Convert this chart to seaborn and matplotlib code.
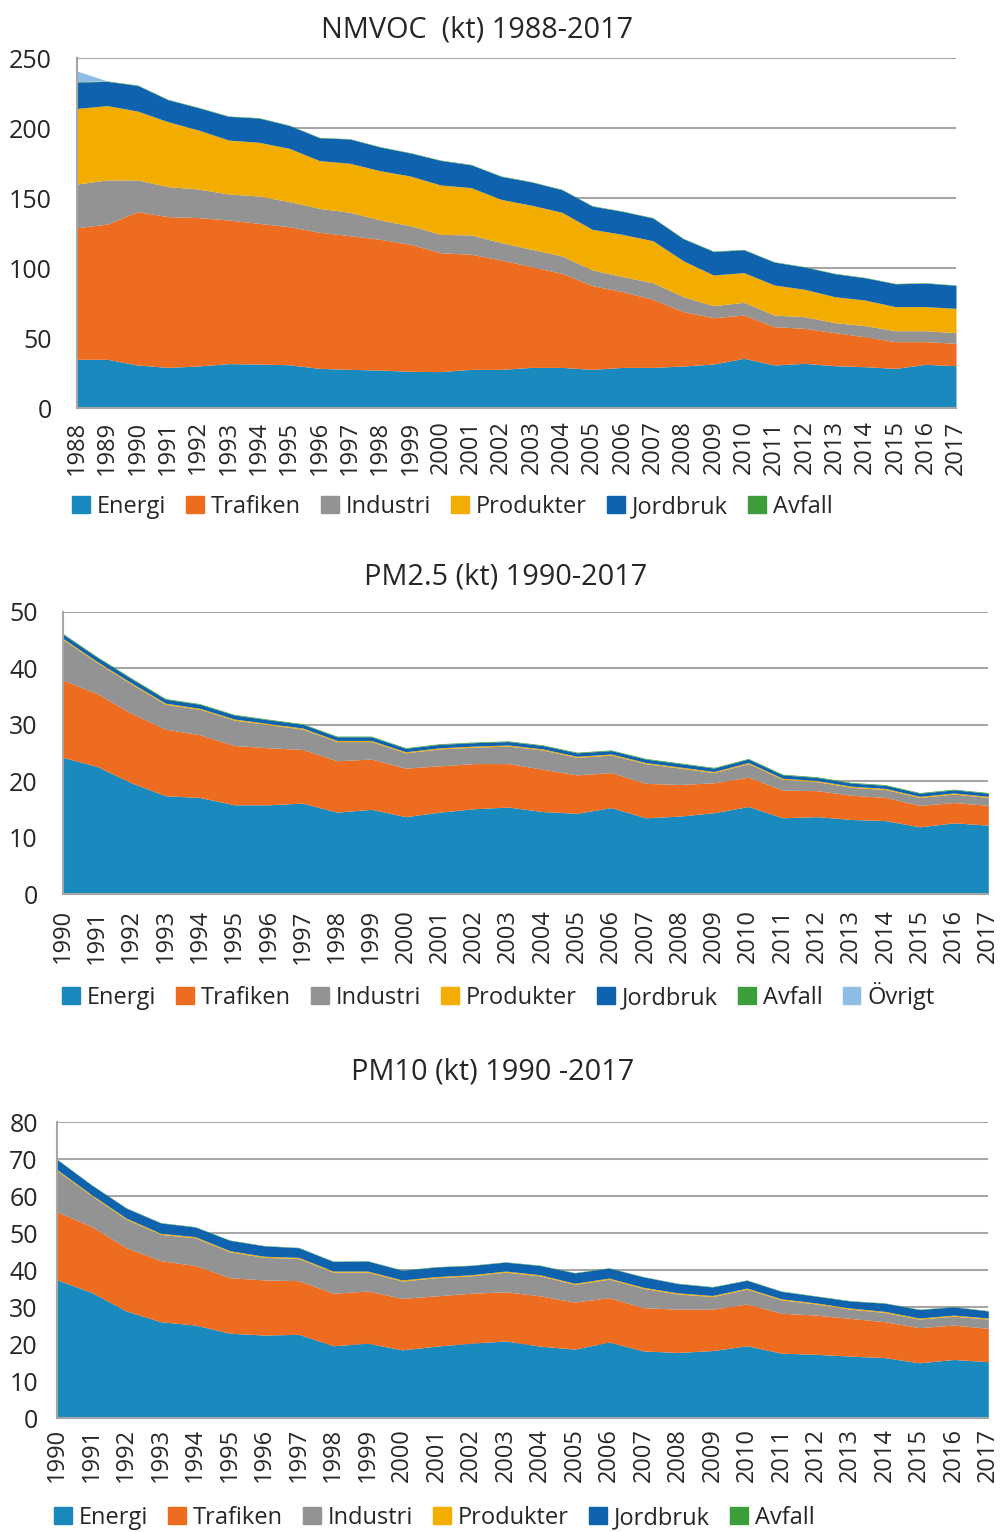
import numpy as np
import matplotlib
matplotlib.use("Agg")
import matplotlib.pyplot as plt
import matplotlib.patches as mpatches
import seaborn as sns

# ---------------- data ----------------
categories = ["Energi", "Trafiken", "Industri", "Produkter", "Jordbruk", "Avfall", "Övrigt"]

years_nmvoc = list(range(1988, 2018))
nmvoc_energi = [34.8, 34.8, 30.7, 29.0, 30.0, 31.7, 31.4, 30.9, 28.3, 27.6, 27.1, 26.2, 26.0, 27.6, 27.6,
                29.0, 29.0, 27.6, 29.0, 29.0, 30.0, 31.4, 35.5, 30.7, 31.9, 30.2, 29.5, 28.3, 31.2, 30.2]
nmvoc_trafiken = [94.0, 96.6, 109.5, 107.7, 106.0, 102.6, 100.5, 98.6, 97.2, 95.5, 93.4, 90.7, 84.9, 82.2, 78.1,
                  71.9, 67.2, 59.8, 54.1, 48.6, 38.8, 33.1, 30.9, 27.4, 25.0, 23.6, 21.4, 19.1, 16.2, 16.0]
nmvoc_industri = [31.2, 31.5, 22.7, 21.4, 20.4, 18.6, 19.5, 17.9, 17.1, 16.7, 13.8, 13.3, 13.1, 13.8, 12.4,
                  12.4, 12.4, 11.2, 10.7, 11.9, 10.7, 8.6, 9.1, 8.3, 8.3, 7.2, 7.9, 7.8, 7.8, 7.6]
nmvoc_produkter = [54.0, 53.1, 49.2, 46.4, 42.2, 38.5, 38.4, 38.1, 34.1, 35.0, 35.2, 35.5, 35.3, 33.8, 30.9,
                   31.5, 31.2, 29.0, 30.2, 30.0, 25.7, 21.9, 21.2, 21.5, 19.6, 18.5, 18.3, 17.2, 17.2, 17.4]
nmvoc_jordbruk = [18.8, 17.3, 18.3, 15.7, 15.9, 16.9, 17.3, 16.3, 16.3, 17.3, 16.9, 16.4, 17.5, 16.3, 16.4,
                  16.6, 16.1, 16.6, 16.4, 16.2, 15.7, 16.8, 16.3, 16.3, 15.9, 16.4, 15.9, 16.3, 16.8, 16.4]
nmvoc_avfall = [0.3] * 30
nmvoc_ovrigt = [7.6] + [0.0] * 29

years_pm = list(range(1990, 2018))
pm25_energi = [24.2, 22.6, 19.7, 17.4, 17.1, 15.8, 15.8, 16.1, 14.5, 15.0, 13.7, 14.5, 15.1, 15.4,
               14.6, 14.3, 15.3, 13.5, 13.8, 14.4, 15.5, 13.5, 13.7, 13.2, 13.0, 11.9, 12.6, 12.2]
pm25_trafiken = [13.7, 12.9, 12.3, 11.8, 11.1, 10.5, 10.1, 9.5, 9.1, 8.9, 8.6, 8.2, 8.0, 7.7,
                 7.5, 6.8, 6.2, 6.1, 5.6, 5.3, 5.2, 4.9, 4.6, 4.3, 4.1, 3.8, 3.6, 3.5]
pm25_industri = [7.2, 5.5, 5.2, 4.4, 4.5, 4.5, 4.1, 3.6, 3.4, 3.1, 2.7, 3.0, 2.9, 3.1,
                 3.4, 3.1, 3.1, 3.5, 2.9, 1.8, 2.4, 1.9, 1.6, 1.4, 1.4, 1.4, 1.5, 1.4]
pm25_produkter = [0.2] * 28
pm25_jordbruk = [0.75, 0.75, 0.75, 0.7, 0.7, 0.7, 0.65, 0.65, 0.65, 0.65, 0.6, 0.6, 0.6, 0.6,
                 0.6, 0.6, 0.6, 0.6, 0.6, 0.6, 0.6, 0.6, 0.55, 0.55, 0.55, 0.55, 0.55, 0.55]
pm25_avfall = [0.12] * 28
pm25_ovrigt = [0.0] * 28

pm10_energi = [37.4, 34.0, 29.0, 26.1, 25.2, 23.0, 22.5, 22.7, 19.6, 20.3, 18.5, 19.5, 20.3, 20.9,
               19.5, 18.7, 20.6, 18.2, 17.8, 18.3, 19.6, 17.6, 17.3, 16.8, 16.4, 15.0, 15.9, 15.3]
pm10_trafiken = [18.4, 17.8, 17.1, 16.5, 16.1, 15.0, 14.9, 14.5, 14.2, 14.1, 13.9, 13.6, 13.5, 13.3,
                 13.6, 12.7, 12.0, 11.7, 11.7, 11.2, 11.3, 10.8, 10.6, 10.2, 9.7, 9.5, 9.3, 9.0]
pm10_industri = [11.1, 8.3, 7.7, 7.1, 7.5, 7.0, 6.1, 6.0, 5.7, 5.1, 4.7, 4.9, 4.7, 5.3,
                 5.4, 4.8, 5.0, 5.2, 4.1, 3.4, 4.0, 3.6, 3.0, 2.5, 2.5, 2.3, 2.4, 2.5]
pm10_produkter = [0.3] * 28
pm10_jordbruk = [2.7, 2.6, 2.7, 2.8, 2.6, 2.8, 2.8, 2.6, 2.6, 2.7, 2.6, 2.6, 2.5, 2.4,
                 2.5, 2.8, 2.7, 2.8, 2.5, 2.3, 2.1, 2.0, 1.8, 1.9, 2.2, 2.3, 2.2, 1.9]
pm10_avfall = [0.1] * 28

# ---------------- style ----------------
sns.set_theme(style="white")
plt.rcParams["font.family"] = ["Open Sans", "DejaVu Sans"]

colors = {
    "Energi": "#1A89BE",
    "Trafiken": "#EE6C1F",
    "Industri": "#939393",
    "Produkter": "#F2AD00",
    "Jordbruk": "#0E62AE",
    "Avfall": "#3C9E3A",
    "Övrigt": "#8DBDE4",
}
palette = sns.color_palette([colors[c] for c in categories])

W, H = 1002, 1532
fig = plt.figure(figsize=(W / 100, H / 100), dpi=100)


def px_axes(left, right, top, bottom):
    return fig.add_axes([left / W, 1 - bottom / H, (right - left) / W, (bottom - top) / H])


def draw(ax, years, series, names, ymax, ystep, xpad, ypad):
    ax.set_axisbelow(True)
    ax.stackplot(years, *series, colors=[colors[n] for n in names], linewidth=0, zorder=1)
    ax.set_xlim(years[0], years[-1])
    ax.set_ylim(0, ymax)
    ax.set_yticks(np.arange(0, ymax + 1, ystep))
    ax.set_xticks(years)
    ax.set_xticklabels([str(y) for y in years], rotation=90, fontsize=17)
    ax.tick_params(axis="x", length=0, pad=xpad)
    ax.tick_params(axis="y", length=0, pad=ypad, labelsize=18)
    ax.yaxis.grid(True, color="#A6A6A6", linewidth=1.5)
    for s in ["top", "right"]:
        ax.spines[s].set_visible(False)
    for s in ["left", "bottom"]:
        ax.spines[s].set_color("#A6A6A6")
        ax.spines[s].set_linewidth(1.5)
        ax.spines[s].set_zorder(3)


def legend(names, x, y, spacing):
    handles = [mpatches.Patch(color=colors[n], label=n) for n in names]
    fig.legend(handles=handles, loc="center left", bbox_to_anchor=(x / W, 1 - y / H),
               ncol=len(names), frameon=False, fontsize=17, handlelength=0.75, handleheight=0.75,
               handletextpad=0.3, columnspacing=spacing, borderaxespad=0, borderpad=0)


# NMVOC
ax1 = px_axes(77, 956, 58, 408)
draw(ax1, years_nmvoc,
     [nmvoc_energi, nmvoc_trafiken, nmvoc_industri, nmvoc_produkter, nmvoc_jordbruk, nmvoc_avfall, nmvoc_ovrigt],
     categories, 250, 50, 9, 18)
fig.text(477 / W, 1 - 30 / H, "NMVOC  (kt) 1988-2017", ha="center", va="center", fontsize=20.8)
legend(categories[:6], 72, 507, 0.85)

# PM2.5
ax2 = px_axes(62.7, 988.3, 611.7, 894)
draw(ax2, years_pm,
     [pm25_energi, pm25_trafiken, pm25_industri, pm25_produkter, pm25_jordbruk, pm25_avfall, pm25_ovrigt],
     categories, 50, 10, 11, 18)
fig.text(506 / W, 1 - 577 / H, "PM2.5 (kt) 1990-2017", ha="center", va="center", fontsize=20.8)
legend(categories, 62, 996, 0.85)

# PM10
ax3 = px_axes(57.3, 988.3, 1122.3, 1418.3)
draw(ax3, years_pm,
     [pm10_energi, pm10_trafiken, pm10_industri, pm10_produkter, pm10_jordbruk, pm10_avfall],
     categories[:6], 80, 10, 7, 14)
fig.text(493 / W, 1 - 1072 / H, "PM10 (kt) 1990 -2017", ha="center", va="center", fontsize=20.8)
legend(categories[:6], 54, 1518, 0.85)

fig.savefig("out.png", dpi=100)
